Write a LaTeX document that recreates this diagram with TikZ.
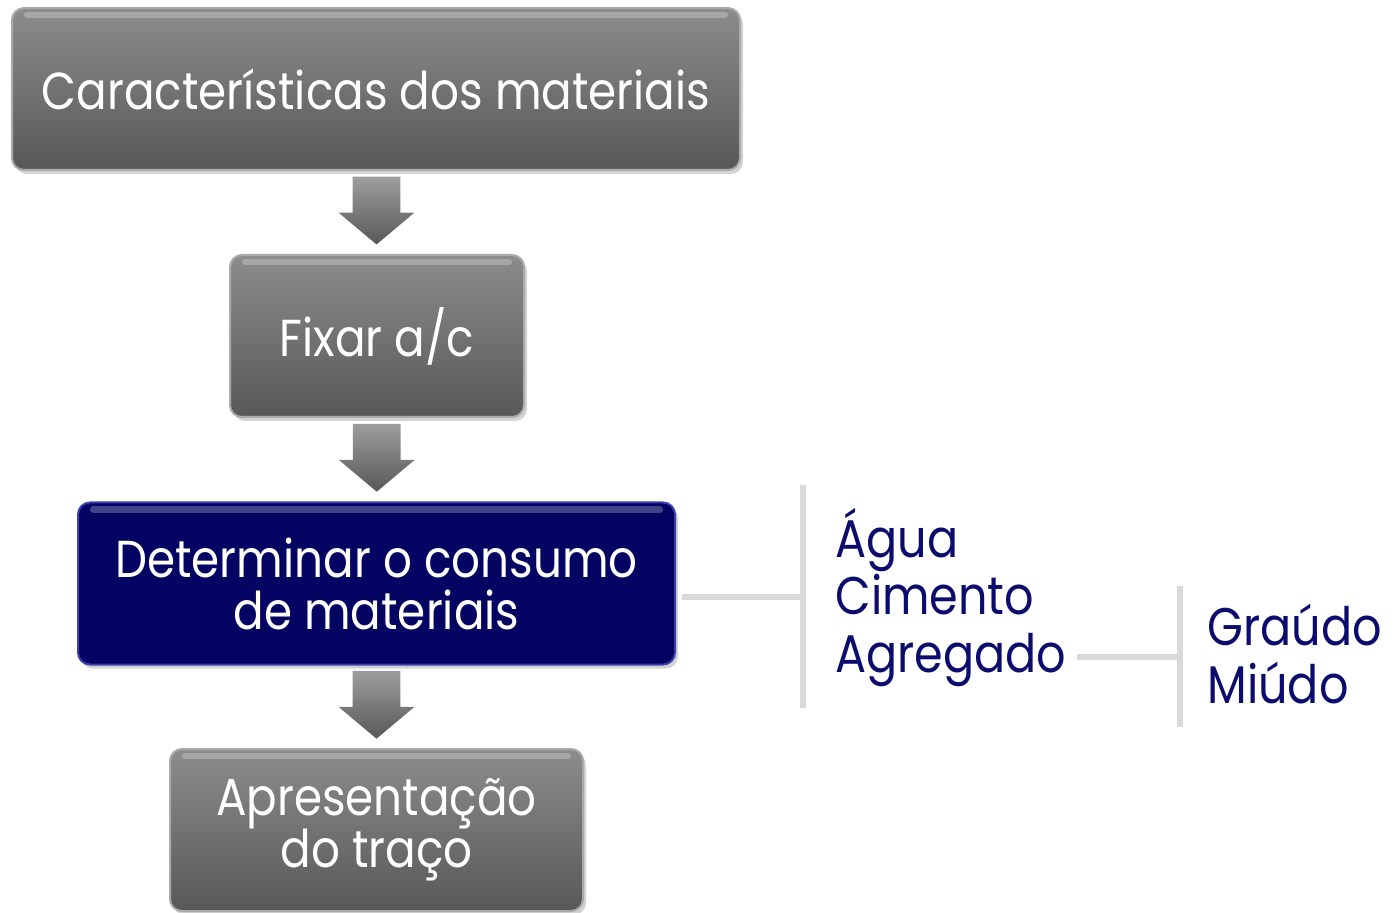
\documentclass[tikz,border=0pt]{standalone}
\usepackage{fontspec}
\setmainfont{Poppins}[FakeStretch=0.87]
\usepackage{tikz}
\usetikzlibrary{positioning,calc,shapes.arrows,shadows}

\definecolor{boxtop}{RGB}{140,140,140}
\definecolor{boxbot}{RGB}{88,88,88}
\definecolor{boxedge}{RGB}{170,170,170}
\definecolor{navyfill}{RGB}{4,4,98}
\definecolor{navyedge}{RGB}{60,60,170}
\definecolor{navytext}{RGB}{12,12,110}
\definecolor{linkgray}{RGB}{217,217,217}

\tikzset{
  stage/.style={draw=boxedge, line width=1pt, rounded corners=6pt, top color=boxtop, bottom color=boxbot,
    text=white, align=center, minimum height=81pt, inner sep=0pt,
    font=\fontsize{26}{26}\selectfont, drop shadow={opacity=0.35, shadow xshift=1.5pt, shadow yshift=-2pt}},
  current/.style={stage, draw=navyedge, top color=navyfill, bottom color=navyfill},
  downarrow/.style={single arrow, shape border rotate=270, minimum height=30pt, minimum width=37.5pt,
    single arrow head extend=7pt, single arrow tip angle=100, inner sep=11.75pt,
    top color=boxtop!85, bottom color=boxbot, draw=none},
  gloss/.style={draw=white, draw opacity=0.25, line width=3pt, line cap=round},
  item/.style={text=navytext, font=\fontsize{26.5}{27}\selectfont, inner sep=0pt, anchor=base west},
  link/.style={draw=linkgray, line width=3pt}
}

\begin{document}
\begin{tikzpicture}[x=0.5pt,y=-0.5pt]
  \useasboundingbox (0,0) rectangle (1400,913);
  % etapas
  \node[stage, minimum width=364pt] (carac) at (376,89) {Características dos materiais};
  \node[stage, minimum width=147pt] (fixar) at (377,336) {Fixar a/c};
  \node[current, minimum width=298.5pt] (consumo) at (376.5,583.5) {Determinar o consumo\\de materiais};
  \node[stage, minimum width=206.5pt] (traco) at (376.5,830) {Apresentação\\do traço};
  \foreach \b in {carac,fixar,consumo,traco}
    \draw[gloss] ([xshift=8pt,yshift=-4pt]\b.north west) -- ([xshift=-8pt,yshift=-4pt]\b.north east);
  % setas
  \node[downarrow] (s1) at ([yshift=6pt]$(carac.south)!0.5!(fixar.north)$) {};
  \node[downarrow] (s2) at ([yshift=6pt]$(fixar.south)!0.5!(consumo.north)$) {};
  \node[downarrow] (s3) at ([yshift=6pt]$(consumo.south)!0.5!(traco.north)$) {};
  % materiais
  \node[item] (agua) at (835,557) {Água};
  \node[item] (cimento) at (835,614) {Cimento};
  \node[item] (agregado) at (835,672) {Agregado};
  \node[item] (graudo) at (1207,645) {Graúdo};
  \node[item] (miudo) at (1207,703) {Miúdo};
  \coordinate (c1) at (803,597);
  \coordinate (c2) at (1180,657);
  \draw[link] ([xshift=3pt]consumo.east |- c1) -- (c1);
  \draw[link] (803,485) -- (803,708);
  \draw[link] ([xshift=5pt]agregado.east |- c2) -- (c2);
  \draw[link] (1180,586) -- (1180,727);
\end{tikzpicture}
\end{document}
